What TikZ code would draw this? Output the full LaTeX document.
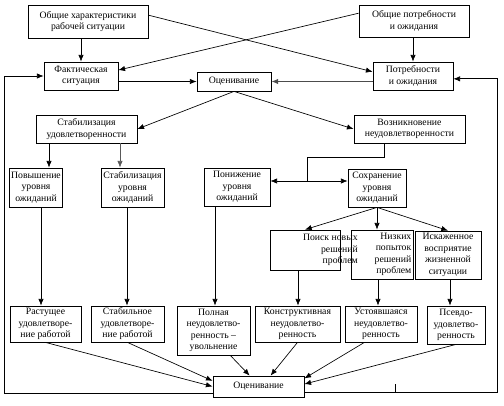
\documentclass[tikz,border=0pt]{standalone}
\usepackage{fontspec}
\setmainfont{Liberation Serif}
\usepackage{tikz}
\usetikzlibrary{arrows.meta,positioning,calc}

\tikzset{
  box/.style={draw,line width=0.6pt,rectangle,align=center,inner sep=1pt,
              font=\fontsize{7.3}{8.6}\selectfont},
  boxtext/.style={inner sep=0pt,align=right,font=\fontsize{7.3}{8.6}\selectfont},
  link/.style={line width=0.5pt},
}

\begin{document}
\begin{tikzpicture}[x=0.75pt,y=-0.75pt,>={Latex[length=5pt,width=4pt]}]
  \useasboundingbox (0,0) rectangle (504,406);

  % top row
  \node[box,minimum width=90pt,minimum height=24.75pt] (genchar) at (88,21.5)
       {Общие характеристики\\рабочей ситуации};
  \node[box,minimum width=82.5pt,minimum height=24pt] (genneed) at (414,21)
       {Общие потребности\\и ожидания};

  \node[box,minimum width=55.5pt,minimum height=21pt] (fact) at (81,76)
       {Фактическая\\ситуация};
  \node[box,minimum width=55.5pt,minimum height=14.25pt] (eval1) at (234,81.5)
       {Оценивание};
  \node[box,minimum width=60pt,minimum height=21pt] (need) at (413,76)
       {Потребности\\и ожидания};

  \node[box,minimum width=75.75pt,minimum height=21pt] (stabsat) at (86.5,129)
       {Стабилизация\\удовлетворенности};
  \node[box,minimum width=83.25pt,minimum height=21pt] (dissat) at (409.5,129)
       {Возникновение\\неудовлетворенности};

  % expectation level
  \node[box,minimum width=39pt,minimum height=29.25pt] (raise) at (36,187.5)
       {Повышение\\уровня\\ожиданий};
  \node[box,minimum width=47.25pt,minimum height=29.25pt] (stablev) at (132.5,187.5)
       {Стабилизация\\уровня\\ожиданий};
  \node[box,minimum width=49.5pt,minimum height=28.5pt] (lower) at (237,187)
       {Понижение\\уровня\\ожиданий};
  \node[box,minimum width=43.5pt,minimum height=28.5pt] (keep) at (377,188)
       {Сохранение\\уровня\\ожиданий};

  \node[box,minimum width=52.5pt,minimum height=30pt] (search) at (305,250) {};
  \node[boxtext,anchor=north east] (searchtxt) at (358,234)
       {Поиск новых\\решений\\проблем};
  \node[box,align=right,text width=44pt,minimum width=46.5pt,minimum height=36.75pt]
       (lowtry) at (382,254.5) {Низких\\попыток\\решений\\проблем};
  \node[box,minimum width=49.5pt,minimum height=36pt] (distort) at (448,255)
       {Искаженное\\восприятие\\жизненной\\ситуации};

  % outcomes
  \node[box,minimum width=53.25pt,minimum height=27pt] (grow) at (45.5,324)
       {Растущее\\удовлетворе-\\ние работой};
  \node[box,minimum width=54.75pt,minimum height=27pt] (stabjob) at (127.5,324)
       {Стабильное\\удовлетворе-\\ние работой};
  \node[box,minimum width=54.75pt,minimum height=36.75pt] (quit) at (213.5,330.5)
       {Полная\\неудовлетво-\\ренность --\\увольнение};
  \node[box,minimum width=63.75pt,minimum height=27pt] (constr) at (297.5,324)
       {Конструктивная\\неудовлетво-\\ренность};
  \node[box,minimum width=54pt,minimum height=27pt] (settled) at (381,324)
       {Устоявшаяся\\неудовлетво-\\ренность};
  \node[box,minimum width=43.5pt,minimum height=28.5pt] (pseudo) at (456,325)
       {Псевдо-\\удовлетво-\\ренность};

  \node[box,minimum width=68.25pt,minimum height=15.75pt] (eval2) at (258.5,386.5)
       {Оценивание};

  % upper connectors
  \draw[link,->] (fact.north |- genchar.south) -- (fact.north);
  \draw[link,->] (need.north |- genneed.south) -- (need.north);
  \draw[link,->] (genchar.6) -- (need.174);
  \draw[link,->] (genneed.172) -- (fact.9);
  \draw[link,->] (fact.east |- eval1.west) -- (eval1.west);
  \draw[link,->,gray!60!black,line width=0.8pt] (need.west |- eval1.east) -- (eval1.east);
  \draw[link,->] (eval1.south) -- (stabsat.east);
  \draw[link,->] (eval1.south) -- (dissat.west);

  \draw[link,->] (49,0 |- stabsat.south) -- (49,0 |- raise.north);
  \draw[link,->,gray!70!black] (120,0 |- stabsat.south) -- (120,0 |- stablev.north);

  \coordinate (fork) at (307,181);
  \draw[link] (384,0 |- dissat.south) |- (fork |- 0,157) -- (fork);
  \draw[link,->] (fork) -- (fork -| lower.east);
  \draw[link,->] (fork) -- (fork -| keep.west);

  \draw[link,->] (keep.south) -- (search.north);
  \draw[link,->] (keep.south) -- (keep.south |- lowtry.north);
  \draw[link,->] (keep.south) -- (distort.north);

  % down to outcomes
  \draw[link,->] (41,0 |- raise.south) -- (41,0 |- grow.north);
  \draw[link,->] (127,0 |- stablev.south) -- (127,0 |- stabjob.north);
  \draw[link,->] (215,0 |- lower.south) -- (215,0 |- quit.north);
  \draw[link,->] (298,0 |- search.south) -- (298,0 |- constr.north);
  \draw[link,->] (378,0 |- lowtry.south) -- (378,0 |- settled.north);
  \draw[link,->] (450,0 |- distort.south) -- (450,0 |- pseudo.north);

  % into the final evaluation
  \draw[link,->] (grow.south) -- (eval2.west);
  \draw[link,->] (stabjob.south) -- (eval2.173);
  \draw[link,->] (quit.-56) -- (eval2.129);
  \draw[link,->] (constr.south) -- (eval2.42);
  \draw[link,->] (settled.-132) -- (eval2.10);
  \draw[link,->] (pseudo.south) -- (eval2.3);

  % feedback loops
  \coordinate (lloop) at (4,0);
  \coordinate (rloop) at (497,0);
  \draw[link,->] (eval2.188) -| (lloop |- fact.west) -- (fact.west);
  \draw[link,->] (eval2.-7) -| (rloop |- need.-4) -- (need.-4);

  \draw[link] (395,384) -- (395,392);
\end{tikzpicture}
\end{document}
